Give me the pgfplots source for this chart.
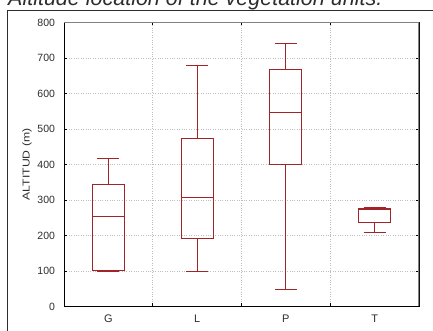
\documentclass[border=0pt]{standalone}
\usepackage{fontspec}
\setmainfont{Liberation Sans}
\usepackage{graphicx}
\usepackage{pgfplots}
\pgfplotsset{compat=1.18}
\usepgfplotslibrary{statistics}
\usetikzlibrary{calc}
\definecolor{boxred}{RGB}{160,36,40}
\definecolor{gridgray}{RGB}{190,190,190}
\definecolor{framedark}{RGB}{45,45,45}
\begin{document}
\begin{tikzpicture}
\begin{axis}[
  name=ax, at={(0pt,0pt)}, anchor=south west,
  scale only axis, width=355pt, height=284pt,
  xmin=-0.5, xmax=3.5, ymin=0, ymax=800,
  ytick={0,100,...,800},
  xtick={0.5,1.5,2.5}, xticklabels={},
  extra x ticks={0,1,2,3},
  extra x tick labels={G,L,P,T},
  extra x tick style={major tick length=0pt, grid=none, tick label style={yshift=-5pt, font=\fontsize{11}{13}\selectfont}},
  grid=major, grid style={dotted, gridgray, line width=0.6pt},
  tick align=inside, major tick length=3pt,
  tick style={black, line width=0.7pt},
  axis line style={black, line width=0.8pt},
  ticklabel style={font=\fontsize{10.5}{12}\selectfont, text=framedark},
  yticklabel style={xshift=-5.5pt},
  /pgf/number format/assume math mode=true,
  ylabel={\scalebox{1.22}[1]{ALTITUD (m)}},
  ylabel style={at={(axis description cs:-0.104,0.5)}, anchor=center, font=\fontsize{10}{12}\selectfont, text=framedark},
  boxplot/draw direction=y,
]
\addplot[boxred, solid, line width=0.9pt, mark=none, boxplot prepared={lower whisker=99, lower quartile=101, median=254, upper quartile=344, upper whisker=417, draw position=0, box extend=0.36, whisker extend=0.25}] coordinates {};
\addplot[boxred, solid, line width=0.9pt, mark=none, boxplot prepared={lower whisker=98, lower quartile=192, median=308, upper quartile=473, upper whisker=678, draw position=1, box extend=0.36, whisker extend=0.25}] coordinates {};
\addplot[boxred, solid, line width=0.9pt, mark=none, boxplot prepared={lower whisker=47, lower quartile=401, median=547, upper quartile=667, upper whisker=741, draw position=2, box extend=0.36, whisker extend=0.25}] coordinates {};
\addplot[boxred, solid, line width=0.9pt, mark=none, boxplot prepared={lower whisker=209, lower quartile=237, median=272, upper quartile=275, upper whisker=278, draw position=3, box extend=0.36, whisker extend=0.25}] coordinates {};
\draw[color={rgb,255:red,130;green,130;blue,130}, line width=1.5pt] (rel axis cs:0,1) -- (rel axis cs:1,1) -- (rel axis cs:1,0);
\end{axis}
\coordinate (O) at ($(ax.south west)+(-64pt,-24.5pt)$);
\node[anchor=base west, inner sep=0, font=\fontsize{21.5}{24}\selectfont\itshape, text=framedark] at ($(O)+(8pt,325.3pt)$) {Altitude location of the vegetation units.};
\draw[line width=1.6pt, color=framedark] ($(O)+(7.6pt,-2pt)$) -- ($(O)+(7.6pt,320.6pt)$) -- ($(O)+(436pt,320.6pt)$);
\pgfresetboundingbox
\useasboundingbox (O) rectangle ($(O)+(433pt,331pt)$);
\end{tikzpicture}
\end{document}
